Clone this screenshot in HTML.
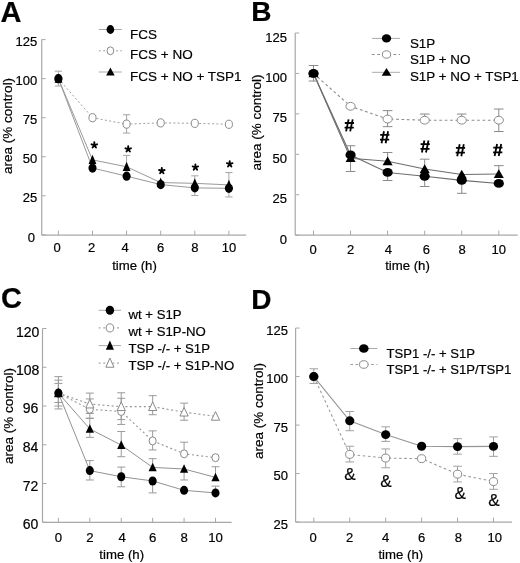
<!DOCTYPE html>
<html><head><meta charset="utf-8"><title>Figure</title>
<style>
html,body{margin:0;padding:0;background:#fff;}
body{width:520px;height:563px;overflow:hidden;}
svg{display:block;font-family:"Liberation Sans", sans-serif;filter:blur(0.25px);}
text{stroke:#000;stroke-width:0.2px;}
</style></head>
<body>
<svg width="520" height="563" viewBox="0 0 520 563">
<rect width="520" height="563" fill="#fff"/>
<line x1="41.70" y1="39.60" x2="41.70" y2="235.20" stroke="#a8a8a8" stroke-width="1.2"/>
<line x1="41.70" y1="235.20" x2="246.20" y2="235.20" stroke="#a8a8a8" stroke-width="1.2"/>
<line x1="41.70" y1="39.60" x2="45.70" y2="39.60" stroke="#a8a8a8" stroke-width="1.0"/>
<text x="37.20" y="46.20" font-size="13" text-anchor="end" font-weight="normal" >125</text>
<line x1="41.70" y1="78.66" x2="45.70" y2="78.66" stroke="#a8a8a8" stroke-width="1.0"/>
<text x="37.20" y="85.26" font-size="13" text-anchor="end" font-weight="normal" >100</text>
<line x1="41.70" y1="117.72" x2="45.70" y2="117.72" stroke="#a8a8a8" stroke-width="1.0"/>
<text x="37.20" y="124.32" font-size="13" text-anchor="end" font-weight="normal" >75</text>
<line x1="41.70" y1="156.78" x2="45.70" y2="156.78" stroke="#a8a8a8" stroke-width="1.0"/>
<text x="37.20" y="163.38" font-size="13" text-anchor="end" font-weight="normal" >50</text>
<line x1="41.70" y1="195.84" x2="45.70" y2="195.84" stroke="#a8a8a8" stroke-width="1.0"/>
<text x="37.20" y="202.44" font-size="13" text-anchor="end" font-weight="normal" >25</text>
<line x1="41.70" y1="234.90" x2="45.70" y2="234.90" stroke="#a8a8a8" stroke-width="1.0"/>
<text x="34.90" y="241.50" font-size="13" text-anchor="end" font-weight="normal" >0</text>
<line x1="58.40" y1="235.20" x2="58.40" y2="230.70" stroke="#a8a8a8" stroke-width="1.0"/>
<text x="57.20" y="252.40" font-size="13" text-anchor="middle" font-weight="normal" >0</text>
<line x1="92.50" y1="235.20" x2="92.50" y2="230.70" stroke="#a8a8a8" stroke-width="1.0"/>
<text x="91.70" y="252.40" font-size="13" text-anchor="middle" font-weight="normal" >2</text>
<line x1="126.60" y1="235.20" x2="126.60" y2="230.70" stroke="#a8a8a8" stroke-width="1.0"/>
<text x="125.10" y="252.40" font-size="13" text-anchor="middle" font-weight="normal" >4</text>
<line x1="160.70" y1="235.20" x2="160.70" y2="230.70" stroke="#a8a8a8" stroke-width="1.0"/>
<text x="160.70" y="252.40" font-size="13" text-anchor="middle" font-weight="normal" >6</text>
<line x1="194.80" y1="235.20" x2="194.80" y2="230.70" stroke="#a8a8a8" stroke-width="1.0"/>
<text x="194.80" y="252.40" font-size="13" text-anchor="middle" font-weight="normal" >8</text>
<line x1="228.90" y1="235.20" x2="228.90" y2="230.70" stroke="#a8a8a8" stroke-width="1.0"/>
<text x="228.90" y="252.40" font-size="13" text-anchor="middle" font-weight="normal" >10</text>
<text x="134.50" y="269.70" font-size="13.2" text-anchor="middle" font-weight="normal" >time (h)</text>
<text x="0" y="0" font-size="13.5" text-anchor="middle" transform="translate(12.0,125.9) rotate(-90)">area (% control)</text>
<text x="0.50" y="21.90" font-size="29" text-anchor="start" font-weight="bold" >A</text>
<polyline points="58.40,78.66 92.50,168.03 126.60,176.15 160.70,184.59 194.80,187.87 228.90,188.34" fill="none" stroke="#9a9a9a" stroke-width="1.0"/>
<polyline points="58.40,78.66 92.50,117.72 126.60,124.13 160.70,122.88 194.80,123.34 228.90,124.28" fill="none" stroke="#a0a0a0" stroke-width="1.0" stroke-dasharray="2,2.3"/>
<polyline points="58.40,78.66 92.50,159.90 126.60,166.78 160.70,182.56 194.80,183.34 228.90,184.90" fill="none" stroke="#9a9a9a" stroke-width="1.0"/>
<line x1="58.40" y1="78.66" x2="58.40" y2="71.16" stroke="#a5a5a5" stroke-width="1.0"/>
<line x1="54.80" y1="71.16" x2="62.00" y2="71.16" stroke="#a5a5a5" stroke-width="1.0"/>
<line x1="58.40" y1="78.66" x2="58.40" y2="86.00" stroke="#a5a5a5" stroke-width="1.0"/>
<line x1="54.80" y1="86.00" x2="62.00" y2="86.00" stroke="#a5a5a5" stroke-width="1.0"/>
<line x1="194.80" y1="187.87" x2="194.80" y2="195.53" stroke="#a5a5a5" stroke-width="1.0"/>
<line x1="191.20" y1="195.53" x2="198.40" y2="195.53" stroke="#a5a5a5" stroke-width="1.0"/>
<line x1="228.90" y1="188.34" x2="228.90" y2="196.93" stroke="#a5a5a5" stroke-width="1.0"/>
<line x1="225.30" y1="196.93" x2="232.50" y2="196.93" stroke="#a5a5a5" stroke-width="1.0"/>
<line x1="126.60" y1="124.13" x2="126.60" y2="114.75" stroke="#a5a5a5" stroke-width="1.0"/>
<line x1="123.00" y1="114.75" x2="130.20" y2="114.75" stroke="#a5a5a5" stroke-width="1.0"/>
<line x1="126.60" y1="124.13" x2="126.60" y2="133.03" stroke="#a5a5a5" stroke-width="1.0"/>
<line x1="123.00" y1="133.03" x2="130.20" y2="133.03" stroke="#a5a5a5" stroke-width="1.0"/>
<line x1="126.60" y1="166.78" x2="126.60" y2="155.37" stroke="#a5a5a5" stroke-width="1.0"/>
<line x1="123.00" y1="155.37" x2="130.20" y2="155.37" stroke="#a5a5a5" stroke-width="1.0"/>
<line x1="194.80" y1="183.34" x2="194.80" y2="175.84" stroke="#a5a5a5" stroke-width="1.0"/>
<line x1="191.20" y1="175.84" x2="198.40" y2="175.84" stroke="#a5a5a5" stroke-width="1.0"/>
<line x1="228.90" y1="184.90" x2="228.90" y2="172.56" stroke="#a5a5a5" stroke-width="1.0"/>
<line x1="225.30" y1="172.56" x2="232.50" y2="172.56" stroke="#a5a5a5" stroke-width="1.0"/>
<ellipse cx="58.40" cy="78.66" rx="3.55" ry="4.10" fill="#fff" stroke="#8a8a8a" stroke-width="1.0"/>
<ellipse cx="92.50" cy="117.72" rx="3.55" ry="4.10" fill="#fff" stroke="#8a8a8a" stroke-width="1.0"/>
<ellipse cx="126.60" cy="124.13" rx="3.55" ry="4.10" fill="#fff" stroke="#8a8a8a" stroke-width="1.0"/>
<ellipse cx="160.70" cy="122.88" rx="3.55" ry="4.10" fill="#fff" stroke="#8a8a8a" stroke-width="1.0"/>
<ellipse cx="194.80" cy="123.34" rx="3.55" ry="4.10" fill="#fff" stroke="#8a8a8a" stroke-width="1.0"/>
<ellipse cx="228.90" cy="124.28" rx="3.55" ry="4.10" fill="#fff" stroke="#8a8a8a" stroke-width="1.0"/>
<ellipse cx="58.40" cy="78.66" rx="4.05" ry="4.60" fill="#000"/>
<ellipse cx="92.50" cy="168.03" rx="4.05" ry="4.60" fill="#000"/>
<ellipse cx="126.60" cy="176.15" rx="4.05" ry="4.60" fill="#000"/>
<ellipse cx="160.70" cy="184.59" rx="4.05" ry="4.60" fill="#000"/>
<ellipse cx="194.80" cy="187.87" rx="4.05" ry="4.60" fill="#000"/>
<ellipse cx="228.90" cy="188.34" rx="4.05" ry="4.60" fill="#000"/>
<polygon points="58.40,73.55 54.50,82.84 62.30,82.84" fill="#000"/>
<polygon points="92.50,154.79 88.60,164.09 96.40,164.09" fill="#000"/>
<polygon points="126.60,161.66 122.70,170.96 130.50,170.96" fill="#000"/>
<polygon points="160.70,177.44 156.80,186.74 164.60,186.74" fill="#000"/>
<polygon points="194.80,178.23 190.90,187.53 198.70,187.53" fill="#000"/>
<polygon points="228.90,179.79 225.00,189.09 232.80,189.09" fill="#000"/>
<path d="M94.30,145.20L94.30,142.30M94.30,145.20L91.54,144.30M94.30,145.20L92.60,147.55M94.30,145.20L96.00,147.55M94.30,145.20L97.06,144.30" stroke="#000" stroke-width="1.9" stroke-linecap="round" fill="none"/>
<path d="M128.20,149.20L128.20,146.30M128.20,149.20L125.44,148.30M128.20,149.20L126.50,151.55M128.20,149.20L129.90,151.55M128.20,149.20L130.96,148.30" stroke="#000" stroke-width="1.9" stroke-linecap="round" fill="none"/>
<path d="M161.80,170.90L161.80,168.00M161.80,170.90L159.04,170.00M161.80,170.90L160.10,173.25M161.80,170.90L163.50,173.25M161.80,170.90L164.56,170.00" stroke="#000" stroke-width="1.9" stroke-linecap="round" fill="none"/>
<path d="M195.40,167.30L195.40,164.40M195.40,167.30L192.64,166.40M195.40,167.30L193.70,169.65M195.40,167.30L197.10,169.65M195.40,167.30L198.16,166.40" stroke="#000" stroke-width="1.9" stroke-linecap="round" fill="none"/>
<path d="M229.70,164.10L229.70,161.20M229.70,164.10L226.94,163.20M229.70,164.10L228.00,166.45M229.70,164.10L231.40,166.45M229.70,164.10L232.46,163.20" stroke="#000" stroke-width="1.9" stroke-linecap="round" fill="none"/>
<line x1="98.80" y1="29.50" x2="121.90" y2="29.50" stroke="#aaa" stroke-width="1.0"/>
<ellipse cx="110.40" cy="29.50" rx="3.85" ry="4.40" fill="#000"/>
<text x="130.00" y="39.20" font-size="13.5" text-anchor="start" font-weight="normal" >FCS</text>
<line x1="98.80" y1="50.80" x2="121.90" y2="50.80" stroke="#a0a0a0" stroke-width="1.0" stroke-dasharray="2,2.3"/>
<ellipse cx="110.40" cy="50.80" rx="3.35" ry="3.90" fill="#fff" stroke="#8a8a8a" stroke-width="1.0"/>
<text x="130.00" y="59.20" font-size="13.5" text-anchor="start" font-weight="normal" >FCS + NO</text>
<line x1="98.80" y1="72.00" x2="121.90" y2="72.00" stroke="#aaa" stroke-width="1.0"/>
<polygon points="110.40,67.60 106.15,75.60 114.65,75.60" fill="#000"/>
<text x="130.00" y="80.80" font-size="13.5" text-anchor="start" font-weight="normal" >FCS + NO + TSP1</text>
<line x1="295.20" y1="33.00" x2="295.20" y2="235.10" stroke="#a8a8a8" stroke-width="1.2"/>
<line x1="295.20" y1="235.10" x2="517.70" y2="235.10" stroke="#a8a8a8" stroke-width="1.2"/>
<line x1="295.20" y1="33.00" x2="299.20" y2="33.00" stroke="#a8a8a8" stroke-width="1.0"/>
<text x="287.00" y="41.60" font-size="13" text-anchor="end" font-weight="normal" >125</text>
<line x1="295.20" y1="73.44" x2="299.20" y2="73.44" stroke="#a8a8a8" stroke-width="1.0"/>
<text x="287.00" y="82.04" font-size="13" text-anchor="end" font-weight="normal" >100</text>
<line x1="295.20" y1="113.88" x2="299.20" y2="113.88" stroke="#a8a8a8" stroke-width="1.0"/>
<text x="287.00" y="122.48" font-size="13" text-anchor="end" font-weight="normal" >75</text>
<line x1="295.20" y1="154.32" x2="299.20" y2="154.32" stroke="#a8a8a8" stroke-width="1.0"/>
<text x="287.00" y="162.92" font-size="13" text-anchor="end" font-weight="normal" >50</text>
<line x1="295.20" y1="194.76" x2="299.20" y2="194.76" stroke="#a8a8a8" stroke-width="1.0"/>
<text x="287.00" y="203.36" font-size="13" text-anchor="end" font-weight="normal" >25</text>
<line x1="295.20" y1="235.20" x2="299.20" y2="235.20" stroke="#a8a8a8" stroke-width="1.0"/>
<text x="287.00" y="243.80" font-size="13" text-anchor="end" font-weight="normal" >0</text>
<line x1="313.50" y1="235.10" x2="313.50" y2="230.60" stroke="#a8a8a8" stroke-width="1.0"/>
<text x="313.10" y="254.10" font-size="13" text-anchor="middle" font-weight="normal" >0</text>
<line x1="350.56" y1="235.10" x2="350.56" y2="230.60" stroke="#a8a8a8" stroke-width="1.0"/>
<text x="350.56" y="254.10" font-size="13" text-anchor="middle" font-weight="normal" >2</text>
<line x1="387.62" y1="235.10" x2="387.62" y2="230.60" stroke="#a8a8a8" stroke-width="1.0"/>
<text x="388.32" y="254.10" font-size="13" text-anchor="middle" font-weight="normal" >4</text>
<line x1="424.68" y1="235.10" x2="424.68" y2="230.60" stroke="#a8a8a8" stroke-width="1.0"/>
<text x="426.38" y="254.10" font-size="13" text-anchor="middle" font-weight="normal" >6</text>
<line x1="461.74" y1="235.10" x2="461.74" y2="230.60" stroke="#a8a8a8" stroke-width="1.0"/>
<text x="462.14" y="254.10" font-size="13" text-anchor="middle" font-weight="normal" >8</text>
<line x1="498.80" y1="235.10" x2="498.80" y2="230.60" stroke="#a8a8a8" stroke-width="1.0"/>
<text x="498.80" y="254.10" font-size="13" text-anchor="middle" font-weight="normal" >10</text>
<text x="407.50" y="270.30" font-size="13.2" text-anchor="middle" font-weight="normal" >time (h)</text>
<text x="0" y="0" font-size="13.5" text-anchor="middle" transform="translate(261.0,122.6) rotate(-90)">area (% control)</text>
<text x="251.30" y="20.80" font-size="28" text-anchor="start" font-weight="bold" >B</text>
<polyline points="313.50,73.44 350.56,154.97 387.62,172.44 424.68,176.32 461.74,180.36 498.80,183.44" fill="none" stroke="#6c6c6c" stroke-width="1.1"/>
<polyline points="313.50,73.44 350.56,106.28 387.62,119.06 424.68,120.19 461.74,120.19 498.80,120.19" fill="none" stroke="#8c8c8c" stroke-width="1.1" stroke-dasharray="2.7,2.7"/>
<polyline points="313.50,73.44 350.56,158.20 387.62,161.28 424.68,169.04 461.74,174.54 498.80,174.05" fill="none" stroke="#6c6c6c" stroke-width="1.1"/>
<line x1="313.50" y1="73.44" x2="313.50" y2="65.51" stroke="#8a8a8a" stroke-width="1.0"/>
<line x1="308.70" y1="65.51" x2="318.30" y2="65.51" stroke="#8a8a8a" stroke-width="1.0"/>
<line x1="313.50" y1="73.44" x2="313.50" y2="81.04" stroke="#8a8a8a" stroke-width="1.0"/>
<line x1="308.70" y1="81.04" x2="318.30" y2="81.04" stroke="#8a8a8a" stroke-width="1.0"/>
<line x1="350.56" y1="154.97" x2="350.56" y2="145.75" stroke="#8a8a8a" stroke-width="1.0"/>
<line x1="345.76" y1="145.75" x2="355.36" y2="145.75" stroke="#8a8a8a" stroke-width="1.0"/>
<line x1="387.62" y1="172.44" x2="387.62" y2="180.53" stroke="#8a8a8a" stroke-width="1.0"/>
<line x1="382.82" y1="180.53" x2="392.42" y2="180.53" stroke="#8a8a8a" stroke-width="1.0"/>
<line x1="424.68" y1="176.32" x2="424.68" y2="186.51" stroke="#8a8a8a" stroke-width="1.0"/>
<line x1="419.88" y1="186.51" x2="429.48" y2="186.51" stroke="#8a8a8a" stroke-width="1.0"/>
<line x1="461.74" y1="180.36" x2="461.74" y2="193.30" stroke="#8a8a8a" stroke-width="1.0"/>
<line x1="456.94" y1="193.30" x2="466.54" y2="193.30" stroke="#8a8a8a" stroke-width="1.0"/>
<line x1="387.62" y1="119.06" x2="387.62" y2="110.64" stroke="#8a8a8a" stroke-width="1.0"/>
<line x1="382.82" y1="110.64" x2="392.42" y2="110.64" stroke="#8a8a8a" stroke-width="1.0"/>
<line x1="387.62" y1="119.06" x2="387.62" y2="126.66" stroke="#8a8a8a" stroke-width="1.0"/>
<line x1="382.82" y1="126.66" x2="392.42" y2="126.66" stroke="#8a8a8a" stroke-width="1.0"/>
<line x1="424.68" y1="120.19" x2="424.68" y2="114.04" stroke="#8a8a8a" stroke-width="1.0"/>
<line x1="419.88" y1="114.04" x2="429.48" y2="114.04" stroke="#8a8a8a" stroke-width="1.0"/>
<line x1="461.74" y1="120.19" x2="461.74" y2="114.04" stroke="#8a8a8a" stroke-width="1.0"/>
<line x1="456.94" y1="114.04" x2="466.54" y2="114.04" stroke="#8a8a8a" stroke-width="1.0"/>
<line x1="498.80" y1="120.19" x2="498.80" y2="109.03" stroke="#8a8a8a" stroke-width="1.0"/>
<line x1="494.00" y1="109.03" x2="503.60" y2="109.03" stroke="#8a8a8a" stroke-width="1.0"/>
<line x1="498.80" y1="120.19" x2="498.80" y2="131.51" stroke="#8a8a8a" stroke-width="1.0"/>
<line x1="494.00" y1="131.51" x2="503.60" y2="131.51" stroke="#8a8a8a" stroke-width="1.0"/>
<line x1="350.56" y1="158.20" x2="350.56" y2="171.47" stroke="#8a8a8a" stroke-width="1.0"/>
<line x1="345.76" y1="171.47" x2="355.36" y2="171.47" stroke="#8a8a8a" stroke-width="1.0"/>
<line x1="387.62" y1="161.28" x2="387.62" y2="152.54" stroke="#8a8a8a" stroke-width="1.0"/>
<line x1="382.82" y1="152.54" x2="392.42" y2="152.54" stroke="#8a8a8a" stroke-width="1.0"/>
<line x1="424.68" y1="169.04" x2="424.68" y2="159.17" stroke="#8a8a8a" stroke-width="1.0"/>
<line x1="419.88" y1="159.17" x2="429.48" y2="159.17" stroke="#8a8a8a" stroke-width="1.0"/>
<line x1="498.80" y1="174.05" x2="498.80" y2="165.64" stroke="#8a8a8a" stroke-width="1.0"/>
<line x1="494.00" y1="165.64" x2="503.60" y2="165.64" stroke="#8a8a8a" stroke-width="1.0"/>
<ellipse cx="313.50" cy="73.44" rx="4.60" ry="3.90" fill="#fff" stroke="#8a8a8a" stroke-width="1.0"/>
<ellipse cx="350.56" cy="106.28" rx="4.60" ry="3.90" fill="#fff" stroke="#8a8a8a" stroke-width="1.0"/>
<ellipse cx="387.62" cy="119.06" rx="4.60" ry="3.90" fill="#fff" stroke="#8a8a8a" stroke-width="1.0"/>
<ellipse cx="424.68" cy="120.19" rx="4.60" ry="3.90" fill="#fff" stroke="#8a8a8a" stroke-width="1.0"/>
<ellipse cx="461.74" cy="120.19" rx="4.60" ry="3.90" fill="#fff" stroke="#8a8a8a" stroke-width="1.0"/>
<ellipse cx="498.80" cy="120.19" rx="4.60" ry="3.90" fill="#fff" stroke="#8a8a8a" stroke-width="1.0"/>
<ellipse cx="313.50" cy="73.44" rx="5.10" ry="4.40" fill="#000"/>
<ellipse cx="350.56" cy="154.97" rx="5.10" ry="4.40" fill="#000"/>
<ellipse cx="387.62" cy="172.44" rx="5.10" ry="4.40" fill="#000"/>
<ellipse cx="424.68" cy="176.32" rx="5.10" ry="4.40" fill="#000"/>
<ellipse cx="461.74" cy="180.36" rx="5.10" ry="4.40" fill="#000"/>
<ellipse cx="498.80" cy="183.44" rx="5.10" ry="4.40" fill="#000"/>
<polygon points="313.50,68.66 308.50,77.36 318.50,77.36" fill="#000"/>
<polygon points="350.56,153.42 345.56,162.12 355.56,162.12" fill="#000"/>
<polygon points="387.62,156.49 382.62,165.19 392.62,165.19" fill="#000"/>
<polygon points="424.68,164.26 419.68,172.96 429.68,172.96" fill="#000"/>
<polygon points="461.74,169.75 456.74,178.45 466.74,178.45" fill="#000"/>
<polygon points="498.80,169.27 493.80,177.97 503.80,177.97" fill="#000"/>
<path d="M348.60,119.40L346.10,131.40M352.70,119.40L350.20,131.40M344.80,123.00L354.00,123.00M344.60,127.70L353.80,127.70" stroke="#000" stroke-width="1.8" fill="none"/>
<path d="M384.00,131.30L381.50,143.30M388.10,131.30L385.60,143.30M380.20,134.90L389.40,134.90M380.00,139.60L389.20,139.60" stroke="#000" stroke-width="1.8" fill="none"/>
<path d="M424.40,140.50L421.90,152.50M428.50,140.50L426.00,152.50M420.60,144.10L429.80,144.10M420.40,148.80L429.60,148.80" stroke="#000" stroke-width="1.8" fill="none"/>
<path d="M459.70,144.30L457.20,156.30M463.80,144.30L461.30,156.30M455.90,147.90L465.10,147.90M455.70,152.60L464.90,152.60" stroke="#000" stroke-width="1.8" fill="none"/>
<path d="M497.10,144.00L494.60,156.00M501.20,144.00L498.70,156.00M493.30,147.60L502.50,147.60M493.10,152.30L502.30,152.30" stroke="#000" stroke-width="1.8" fill="none"/>
<line x1="371.90" y1="38.40" x2="400.00" y2="38.40" stroke="#aaa" stroke-width="1.0"/>
<ellipse cx="386.50" cy="38.40" rx="4.65" ry="4.20" fill="#000"/>
<text x="409.90" y="48.10" font-size="13.4" text-anchor="start" font-weight="normal" >S1P</text>
<line x1="371.90" y1="54.50" x2="400.00" y2="54.50" stroke="#8c8c8c" stroke-width="1.0" stroke-dasharray="2.7,2.7"/>
<ellipse cx="386.50" cy="54.50" rx="4.15" ry="3.70" fill="#fff" stroke="#8a8a8a" stroke-width="1.0"/>
<text x="409.90" y="64.20" font-size="13.4" text-anchor="start" font-weight="normal" >S1P + NO</text>
<line x1="371.90" y1="72.30" x2="400.00" y2="72.30" stroke="#aaa" stroke-width="1.0"/>
<polygon points="386.50,68.01 381.70,75.81 391.30,75.81" fill="#000"/>
<text x="409.90" y="80.70" font-size="13.4" text-anchor="start" font-weight="normal" >S1P + NO + TSP1</text>
<line x1="42.50" y1="328.50" x2="42.50" y2="522.30" stroke="#a8a8a8" stroke-width="1.2"/>
<line x1="42.50" y1="522.30" x2="231.60" y2="522.30" stroke="#a8a8a8" stroke-width="1.2"/>
<line x1="42.50" y1="328.50" x2="46.50" y2="328.50" stroke="#a8a8a8" stroke-width="1.0"/>
<text x="39.40" y="336.50" font-size="14" text-anchor="end" font-weight="normal" >120</text>
<line x1="42.50" y1="367.26" x2="46.50" y2="367.26" stroke="#a8a8a8" stroke-width="1.0"/>
<text x="39.40" y="375.06" font-size="14" text-anchor="end" font-weight="normal" >108</text>
<line x1="42.50" y1="406.02" x2="46.50" y2="406.02" stroke="#a8a8a8" stroke-width="1.0"/>
<text x="38.30" y="413.02" font-size="14" text-anchor="end" font-weight="normal" >96</text>
<line x1="42.50" y1="444.78" x2="46.50" y2="444.78" stroke="#a8a8a8" stroke-width="1.0"/>
<text x="38.30" y="451.78" font-size="14" text-anchor="end" font-weight="normal" >84</text>
<line x1="42.50" y1="483.54" x2="46.50" y2="483.54" stroke="#a8a8a8" stroke-width="1.0"/>
<text x="38.30" y="490.54" font-size="14" text-anchor="end" font-weight="normal" >72</text>
<line x1="42.50" y1="522.30" x2="46.50" y2="522.30" stroke="#a8a8a8" stroke-width="1.0"/>
<text x="38.30" y="529.30" font-size="14" text-anchor="end" font-weight="normal" >60</text>
<line x1="58.40" y1="522.30" x2="58.40" y2="517.80" stroke="#a8a8a8" stroke-width="1.0"/>
<text x="58.40" y="542.20" font-size="13.2" text-anchor="middle" font-weight="normal" >0</text>
<line x1="89.82" y1="522.30" x2="89.82" y2="517.80" stroke="#a8a8a8" stroke-width="1.0"/>
<text x="89.82" y="542.20" font-size="13.2" text-anchor="middle" font-weight="normal" >2</text>
<line x1="121.24" y1="522.30" x2="121.24" y2="517.80" stroke="#a8a8a8" stroke-width="1.0"/>
<text x="122.24" y="542.20" font-size="13.2" text-anchor="middle" font-weight="normal" >4</text>
<line x1="152.66" y1="522.30" x2="152.66" y2="517.80" stroke="#a8a8a8" stroke-width="1.0"/>
<text x="152.66" y="542.20" font-size="13.2" text-anchor="middle" font-weight="normal" >6</text>
<line x1="184.08" y1="522.30" x2="184.08" y2="517.80" stroke="#a8a8a8" stroke-width="1.0"/>
<text x="184.08" y="542.20" font-size="13.2" text-anchor="middle" font-weight="normal" >8</text>
<line x1="215.50" y1="522.30" x2="215.50" y2="517.80" stroke="#a8a8a8" stroke-width="1.0"/>
<text x="215.50" y="542.20" font-size="13.2" text-anchor="middle" font-weight="normal" >10</text>
<text x="121.70" y="558.70" font-size="13.2" text-anchor="middle" font-weight="normal" >time (h)</text>
<text x="0" y="0" font-size="13.5" text-anchor="middle" transform="translate(13.3,416.0) rotate(-90)">area (% control)</text>
<text x="1.00" y="308.00" font-size="29" text-anchor="start" font-weight="bold" >C</text>
<polyline points="58.40,393.10 89.82,470.62 121.24,476.76 152.66,480.96 184.08,490.32 215.50,492.91" fill="none" stroke="#929292" stroke-width="1.0"/>
<polyline points="58.40,393.10 89.82,409.25 121.24,411.51 152.66,440.90 184.08,453.82 215.50,457.70" fill="none" stroke="#959595" stroke-width="1.1" stroke-dasharray="2,2.6"/>
<polyline points="58.40,393.10 89.82,428.95 121.24,445.10 152.66,467.39 184.08,469.00 215.50,477.40" fill="none" stroke="#929292" stroke-width="1.0"/>
<polyline points="58.40,393.10 89.82,404.08 121.24,406.67 152.66,406.67 184.08,412.16 215.50,416.36" fill="none" stroke="#959595" stroke-width="1.1" stroke-dasharray="2,2.6"/>
<line x1="58.40" y1="393.10" x2="58.40" y2="383.41" stroke="#9a9a9a" stroke-width="1.0"/>
<line x1="54.40" y1="383.41" x2="62.40" y2="383.41" stroke="#9a9a9a" stroke-width="1.0"/>
<line x1="58.40" y1="393.10" x2="58.40" y2="402.47" stroke="#9a9a9a" stroke-width="1.0"/>
<line x1="54.40" y1="402.47" x2="62.40" y2="402.47" stroke="#9a9a9a" stroke-width="1.0"/>
<line x1="89.82" y1="470.62" x2="89.82" y2="460.61" stroke="#9a9a9a" stroke-width="1.0"/>
<line x1="85.82" y1="460.61" x2="93.82" y2="460.61" stroke="#9a9a9a" stroke-width="1.0"/>
<line x1="89.82" y1="470.62" x2="89.82" y2="479.99" stroke="#9a9a9a" stroke-width="1.0"/>
<line x1="85.82" y1="479.99" x2="93.82" y2="479.99" stroke="#9a9a9a" stroke-width="1.0"/>
<line x1="121.24" y1="476.76" x2="121.24" y2="467.07" stroke="#9a9a9a" stroke-width="1.0"/>
<line x1="117.24" y1="467.07" x2="125.24" y2="467.07" stroke="#9a9a9a" stroke-width="1.0"/>
<line x1="121.24" y1="476.76" x2="121.24" y2="486.77" stroke="#9a9a9a" stroke-width="1.0"/>
<line x1="117.24" y1="486.77" x2="125.24" y2="486.77" stroke="#9a9a9a" stroke-width="1.0"/>
<line x1="152.66" y1="480.96" x2="152.66" y2="492.91" stroke="#9a9a9a" stroke-width="1.0"/>
<line x1="148.66" y1="492.91" x2="156.66" y2="492.91" stroke="#9a9a9a" stroke-width="1.0"/>
<line x1="215.50" y1="492.91" x2="215.50" y2="486.12" stroke="#9a9a9a" stroke-width="1.0"/>
<line x1="211.50" y1="486.12" x2="219.50" y2="486.12" stroke="#9a9a9a" stroke-width="1.0"/>
<line x1="58.40" y1="393.10" x2="58.40" y2="380.18" stroke="#9a9a9a" stroke-width="1.0"/>
<line x1="54.40" y1="380.18" x2="62.40" y2="380.18" stroke="#9a9a9a" stroke-width="1.0"/>
<line x1="58.40" y1="393.10" x2="58.40" y2="406.02" stroke="#9a9a9a" stroke-width="1.0"/>
<line x1="54.40" y1="406.02" x2="62.40" y2="406.02" stroke="#9a9a9a" stroke-width="1.0"/>
<line x1="89.82" y1="409.25" x2="89.82" y2="398.91" stroke="#9a9a9a" stroke-width="1.0"/>
<line x1="85.82" y1="398.91" x2="93.82" y2="398.91" stroke="#9a9a9a" stroke-width="1.0"/>
<line x1="89.82" y1="409.25" x2="89.82" y2="418.29" stroke="#9a9a9a" stroke-width="1.0"/>
<line x1="85.82" y1="418.29" x2="93.82" y2="418.29" stroke="#9a9a9a" stroke-width="1.0"/>
<line x1="121.24" y1="411.51" x2="121.24" y2="398.27" stroke="#9a9a9a" stroke-width="1.0"/>
<line x1="117.24" y1="398.27" x2="125.24" y2="398.27" stroke="#9a9a9a" stroke-width="1.0"/>
<line x1="121.24" y1="411.51" x2="121.24" y2="424.43" stroke="#9a9a9a" stroke-width="1.0"/>
<line x1="117.24" y1="424.43" x2="125.24" y2="424.43" stroke="#9a9a9a" stroke-width="1.0"/>
<line x1="152.66" y1="440.90" x2="152.66" y2="430.89" stroke="#9a9a9a" stroke-width="1.0"/>
<line x1="148.66" y1="430.89" x2="156.66" y2="430.89" stroke="#9a9a9a" stroke-width="1.0"/>
<line x1="152.66" y1="440.90" x2="152.66" y2="449.95" stroke="#9a9a9a" stroke-width="1.0"/>
<line x1="148.66" y1="449.95" x2="156.66" y2="449.95" stroke="#9a9a9a" stroke-width="1.0"/>
<line x1="184.08" y1="453.82" x2="184.08" y2="442.20" stroke="#9a9a9a" stroke-width="1.0"/>
<line x1="180.08" y1="442.20" x2="188.08" y2="442.20" stroke="#9a9a9a" stroke-width="1.0"/>
<line x1="58.40" y1="393.10" x2="58.40" y2="376.63" stroke="#9a9a9a" stroke-width="1.0"/>
<line x1="54.40" y1="376.63" x2="62.40" y2="376.63" stroke="#9a9a9a" stroke-width="1.0"/>
<line x1="58.40" y1="393.10" x2="58.40" y2="408.93" stroke="#9a9a9a" stroke-width="1.0"/>
<line x1="54.40" y1="408.93" x2="62.40" y2="408.93" stroke="#9a9a9a" stroke-width="1.0"/>
<line x1="89.82" y1="428.95" x2="89.82" y2="418.29" stroke="#9a9a9a" stroke-width="1.0"/>
<line x1="85.82" y1="418.29" x2="93.82" y2="418.29" stroke="#9a9a9a" stroke-width="1.0"/>
<line x1="89.82" y1="428.95" x2="89.82" y2="437.35" stroke="#9a9a9a" stroke-width="1.0"/>
<line x1="85.82" y1="437.35" x2="93.82" y2="437.35" stroke="#9a9a9a" stroke-width="1.0"/>
<line x1="121.24" y1="445.10" x2="121.24" y2="431.54" stroke="#9a9a9a" stroke-width="1.0"/>
<line x1="117.24" y1="431.54" x2="125.24" y2="431.54" stroke="#9a9a9a" stroke-width="1.0"/>
<line x1="121.24" y1="445.10" x2="121.24" y2="456.73" stroke="#9a9a9a" stroke-width="1.0"/>
<line x1="117.24" y1="456.73" x2="125.24" y2="456.73" stroke="#9a9a9a" stroke-width="1.0"/>
<line x1="152.66" y1="467.39" x2="152.66" y2="458.67" stroke="#9a9a9a" stroke-width="1.0"/>
<line x1="148.66" y1="458.67" x2="156.66" y2="458.67" stroke="#9a9a9a" stroke-width="1.0"/>
<line x1="184.08" y1="469.00" x2="184.08" y2="479.99" stroke="#9a9a9a" stroke-width="1.0"/>
<line x1="180.08" y1="479.99" x2="188.08" y2="479.99" stroke="#9a9a9a" stroke-width="1.0"/>
<line x1="215.50" y1="477.40" x2="215.50" y2="466.74" stroke="#9a9a9a" stroke-width="1.0"/>
<line x1="211.50" y1="466.74" x2="219.50" y2="466.74" stroke="#9a9a9a" stroke-width="1.0"/>
<line x1="89.82" y1="404.08" x2="89.82" y2="393.10" stroke="#9a9a9a" stroke-width="1.0"/>
<line x1="85.82" y1="393.10" x2="93.82" y2="393.10" stroke="#9a9a9a" stroke-width="1.0"/>
<line x1="89.82" y1="404.08" x2="89.82" y2="413.45" stroke="#9a9a9a" stroke-width="1.0"/>
<line x1="85.82" y1="413.45" x2="93.82" y2="413.45" stroke="#9a9a9a" stroke-width="1.0"/>
<line x1="121.24" y1="406.67" x2="121.24" y2="392.78" stroke="#9a9a9a" stroke-width="1.0"/>
<line x1="117.24" y1="392.78" x2="125.24" y2="392.78" stroke="#9a9a9a" stroke-width="1.0"/>
<line x1="121.24" y1="406.67" x2="121.24" y2="419.59" stroke="#9a9a9a" stroke-width="1.0"/>
<line x1="117.24" y1="419.59" x2="125.24" y2="419.59" stroke="#9a9a9a" stroke-width="1.0"/>
<line x1="152.66" y1="406.67" x2="152.66" y2="395.68" stroke="#9a9a9a" stroke-width="1.0"/>
<line x1="148.66" y1="395.68" x2="156.66" y2="395.68" stroke="#9a9a9a" stroke-width="1.0"/>
<line x1="152.66" y1="406.67" x2="152.66" y2="414.74" stroke="#9a9a9a" stroke-width="1.0"/>
<line x1="148.66" y1="414.74" x2="156.66" y2="414.74" stroke="#9a9a9a" stroke-width="1.0"/>
<line x1="184.08" y1="412.16" x2="184.08" y2="403.11" stroke="#9a9a9a" stroke-width="1.0"/>
<line x1="180.08" y1="403.11" x2="188.08" y2="403.11" stroke="#9a9a9a" stroke-width="1.0"/>
<line x1="184.08" y1="412.16" x2="184.08" y2="420.23" stroke="#9a9a9a" stroke-width="1.0"/>
<line x1="180.08" y1="420.23" x2="188.08" y2="420.23" stroke="#9a9a9a" stroke-width="1.0"/>
<ellipse cx="58.40" cy="393.10" rx="3.55" ry="4.00" fill="#fff" stroke="#8a8a8a" stroke-width="1.0"/>
<ellipse cx="89.82" cy="409.25" rx="3.55" ry="4.00" fill="#fff" stroke="#8a8a8a" stroke-width="1.0"/>
<ellipse cx="121.24" cy="411.51" rx="3.55" ry="4.00" fill="#fff" stroke="#8a8a8a" stroke-width="1.0"/>
<ellipse cx="152.66" cy="440.90" rx="3.55" ry="4.00" fill="#fff" stroke="#8a8a8a" stroke-width="1.0"/>
<ellipse cx="184.08" cy="453.82" rx="3.55" ry="4.00" fill="#fff" stroke="#8a8a8a" stroke-width="1.0"/>
<ellipse cx="215.50" cy="457.70" rx="3.55" ry="4.00" fill="#fff" stroke="#8a8a8a" stroke-width="1.0"/>
<polygon points="58.40,388.37 54.30,396.97 62.50,396.97" fill="#fff" stroke="#8a8a8a" stroke-width="1.0"/>
<polygon points="89.82,399.35 85.72,407.95 93.92,407.95" fill="#fff" stroke="#8a8a8a" stroke-width="1.0"/>
<polygon points="121.24,401.94 117.14,410.54 125.34,410.54" fill="#fff" stroke="#8a8a8a" stroke-width="1.0"/>
<polygon points="152.66,401.94 148.56,410.54 156.76,410.54" fill="#fff" stroke="#8a8a8a" stroke-width="1.0"/>
<polygon points="184.08,407.43 179.98,416.03 188.18,416.03" fill="#fff" stroke="#8a8a8a" stroke-width="1.0"/>
<polygon points="215.50,411.63 211.40,420.23 219.60,420.23" fill="#fff" stroke="#8a8a8a" stroke-width="1.0"/>
<ellipse cx="58.40" cy="393.10" rx="4.05" ry="4.50" fill="#000"/>
<ellipse cx="89.82" cy="470.62" rx="4.05" ry="4.50" fill="#000"/>
<ellipse cx="121.24" cy="476.76" rx="4.05" ry="4.50" fill="#000"/>
<ellipse cx="152.66" cy="480.96" rx="4.05" ry="4.50" fill="#000"/>
<ellipse cx="184.08" cy="490.32" rx="4.05" ry="4.50" fill="#000"/>
<ellipse cx="215.50" cy="492.91" rx="4.05" ry="4.50" fill="#000"/>
<polygon points="58.40,388.37 54.30,396.97 62.50,396.97" fill="#000"/>
<polygon points="89.82,424.22 85.72,432.82 93.92,432.82" fill="#000"/>
<polygon points="121.24,440.37 117.14,448.97 125.34,448.97" fill="#000"/>
<polygon points="152.66,462.66 148.56,471.26 156.76,471.26" fill="#000"/>
<polygon points="184.08,464.27 179.98,472.87 188.18,472.87" fill="#000"/>
<polygon points="215.50,472.67 211.40,481.27 219.60,481.27" fill="#000"/>
<line x1="98.60" y1="310.30" x2="121.00" y2="310.30" stroke="#aaa" stroke-width="1.0"/>
<ellipse cx="109.90" cy="310.30" rx="4.20" ry="4.55" fill="#000"/>
<text x="128.50" y="318.80" font-size="13.2" text-anchor="start" font-weight="normal" >wt + S1P</text>
<line x1="98.60" y1="327.90" x2="121.00" y2="327.90" stroke="#959595" stroke-width="1.0" stroke-dasharray="2,2.6"/>
<ellipse cx="109.90" cy="327.90" rx="3.70" ry="4.05" fill="#fff" stroke="#8a8a8a" stroke-width="1.0"/>
<text x="128.50" y="335.90" font-size="13.2" text-anchor="start" font-weight="normal" >wt + S1P-NO</text>
<line x1="98.60" y1="345.60" x2="121.00" y2="345.60" stroke="#aaa" stroke-width="1.0"/>
<polygon points="109.90,340.54 105.85,349.74 113.95,349.74" fill="#000"/>
<text x="128.50" y="353.10" font-size="13.2" text-anchor="start" font-weight="normal" >TSP -/- + S1P</text>
<line x1="98.60" y1="363.10" x2="121.00" y2="363.10" stroke="#959595" stroke-width="1.0" stroke-dasharray="2,2.6"/>
<polygon points="109.90,358.04 105.85,367.24 113.95,367.24" fill="#fff" stroke="#8a8a8a" stroke-width="1.0"/>
<text x="128.50" y="370.40" font-size="13.2" text-anchor="start" font-weight="normal" >TSP -/- + S1P-NO</text>
<line x1="295.60" y1="328.00" x2="295.60" y2="522.10" stroke="#a8a8a8" stroke-width="1.2"/>
<line x1="295.60" y1="522.10" x2="512.00" y2="522.10" stroke="#a8a8a8" stroke-width="1.2"/>
<line x1="295.60" y1="328.06" x2="299.60" y2="328.06" stroke="#a8a8a8" stroke-width="1.0"/>
<text x="288.00" y="334.96" font-size="13" text-anchor="end" font-weight="normal" >125</text>
<line x1="295.60" y1="376.57" x2="299.60" y2="376.57" stroke="#a8a8a8" stroke-width="1.0"/>
<text x="288.00" y="383.47" font-size="13" text-anchor="end" font-weight="normal" >100</text>
<line x1="295.60" y1="425.08" x2="299.60" y2="425.08" stroke="#a8a8a8" stroke-width="1.0"/>
<text x="288.00" y="431.98" font-size="13" text-anchor="end" font-weight="normal" >75</text>
<line x1="295.60" y1="473.59" x2="299.60" y2="473.59" stroke="#a8a8a8" stroke-width="1.0"/>
<text x="288.00" y="480.49" font-size="13" text-anchor="end" font-weight="normal" >50</text>
<line x1="295.60" y1="522.10" x2="299.60" y2="522.10" stroke="#a8a8a8" stroke-width="1.0"/>
<text x="288.00" y="529.00" font-size="13" text-anchor="end" font-weight="normal" >25</text>
<line x1="313.80" y1="522.10" x2="313.80" y2="517.60" stroke="#a8a8a8" stroke-width="1.0"/>
<text x="313.20" y="542.00" font-size="13" text-anchor="middle" font-weight="normal" >0</text>
<line x1="349.74" y1="522.10" x2="349.74" y2="517.60" stroke="#a8a8a8" stroke-width="1.0"/>
<text x="349.74" y="542.00" font-size="13" text-anchor="middle" font-weight="normal" >2</text>
<line x1="385.68" y1="522.10" x2="385.68" y2="517.60" stroke="#a8a8a8" stroke-width="1.0"/>
<text x="385.68" y="542.00" font-size="13" text-anchor="middle" font-weight="normal" >4</text>
<line x1="421.62" y1="522.10" x2="421.62" y2="517.60" stroke="#a8a8a8" stroke-width="1.0"/>
<text x="421.62" y="542.00" font-size="13" text-anchor="middle" font-weight="normal" >6</text>
<line x1="457.56" y1="522.10" x2="457.56" y2="517.60" stroke="#a8a8a8" stroke-width="1.0"/>
<text x="458.36" y="542.00" font-size="13" text-anchor="middle" font-weight="normal" >8</text>
<line x1="493.50" y1="522.10" x2="493.50" y2="517.60" stroke="#a8a8a8" stroke-width="1.0"/>
<text x="494.70" y="542.00" font-size="13" text-anchor="middle" font-weight="normal" >10</text>
<text x="400.80" y="558.50" font-size="13.2" text-anchor="middle" font-weight="normal" >time (h)</text>
<text x="0" y="0" font-size="13.5" text-anchor="middle" transform="translate(262.9,411.0) rotate(-90)">area (% control)</text>
<text x="251.30" y="308.90" font-size="28" text-anchor="start" font-weight="bold" >D</text>
<polyline points="313.80,376.57 349.74,420.81 385.68,434.59 421.62,446.23 457.56,446.62 493.50,446.42" fill="none" stroke="#959595" stroke-width="1.1"/>
<polyline points="313.80,376.57 349.74,454.38 385.68,458.07 421.62,458.65 457.56,474.17 493.50,481.55" fill="none" stroke="#9a9a9a" stroke-width="1.1" stroke-dasharray="2.6,2.6"/>
<line x1="313.80" y1="376.57" x2="313.80" y2="368.81" stroke="#a0a0a0" stroke-width="1.0"/>
<line x1="309.50" y1="368.81" x2="318.10" y2="368.81" stroke="#a0a0a0" stroke-width="1.0"/>
<line x1="313.80" y1="376.57" x2="313.80" y2="383.56" stroke="#a0a0a0" stroke-width="1.0"/>
<line x1="309.50" y1="383.56" x2="318.10" y2="383.56" stroke="#a0a0a0" stroke-width="1.0"/>
<line x1="349.74" y1="420.81" x2="349.74" y2="411.50" stroke="#a0a0a0" stroke-width="1.0"/>
<line x1="345.44" y1="411.50" x2="354.04" y2="411.50" stroke="#a0a0a0" stroke-width="1.0"/>
<line x1="349.74" y1="420.81" x2="349.74" y2="430.71" stroke="#a0a0a0" stroke-width="1.0"/>
<line x1="345.44" y1="430.71" x2="354.04" y2="430.71" stroke="#a0a0a0" stroke-width="1.0"/>
<line x1="385.68" y1="434.59" x2="385.68" y2="426.83" stroke="#a0a0a0" stroke-width="1.0"/>
<line x1="381.38" y1="426.83" x2="389.98" y2="426.83" stroke="#a0a0a0" stroke-width="1.0"/>
<line x1="385.68" y1="434.59" x2="385.68" y2="441.38" stroke="#a0a0a0" stroke-width="1.0"/>
<line x1="381.38" y1="441.38" x2="389.98" y2="441.38" stroke="#a0a0a0" stroke-width="1.0"/>
<line x1="457.56" y1="446.62" x2="457.56" y2="438.66" stroke="#a0a0a0" stroke-width="1.0"/>
<line x1="453.26" y1="438.66" x2="461.86" y2="438.66" stroke="#a0a0a0" stroke-width="1.0"/>
<line x1="457.56" y1="446.62" x2="457.56" y2="454.19" stroke="#a0a0a0" stroke-width="1.0"/>
<line x1="453.26" y1="454.19" x2="461.86" y2="454.19" stroke="#a0a0a0" stroke-width="1.0"/>
<line x1="493.50" y1="446.42" x2="493.50" y2="436.92" stroke="#a0a0a0" stroke-width="1.0"/>
<line x1="489.20" y1="436.92" x2="497.80" y2="436.92" stroke="#a0a0a0" stroke-width="1.0"/>
<line x1="493.50" y1="446.42" x2="493.50" y2="456.32" stroke="#a0a0a0" stroke-width="1.0"/>
<line x1="489.20" y1="456.32" x2="497.80" y2="456.32" stroke="#a0a0a0" stroke-width="1.0"/>
<line x1="349.74" y1="454.38" x2="349.74" y2="446.23" stroke="#a0a0a0" stroke-width="1.0"/>
<line x1="345.44" y1="446.23" x2="354.04" y2="446.23" stroke="#a0a0a0" stroke-width="1.0"/>
<line x1="349.74" y1="454.38" x2="349.74" y2="461.95" stroke="#a0a0a0" stroke-width="1.0"/>
<line x1="345.44" y1="461.95" x2="354.04" y2="461.95" stroke="#a0a0a0" stroke-width="1.0"/>
<line x1="385.68" y1="458.07" x2="385.68" y2="448.95" stroke="#a0a0a0" stroke-width="1.0"/>
<line x1="381.38" y1="448.95" x2="389.98" y2="448.95" stroke="#a0a0a0" stroke-width="1.0"/>
<line x1="385.68" y1="458.07" x2="385.68" y2="467.77" stroke="#a0a0a0" stroke-width="1.0"/>
<line x1="381.38" y1="467.77" x2="389.98" y2="467.77" stroke="#a0a0a0" stroke-width="1.0"/>
<line x1="457.56" y1="474.17" x2="457.56" y2="466.22" stroke="#a0a0a0" stroke-width="1.0"/>
<line x1="453.26" y1="466.22" x2="461.86" y2="466.22" stroke="#a0a0a0" stroke-width="1.0"/>
<line x1="457.56" y1="474.17" x2="457.56" y2="481.93" stroke="#a0a0a0" stroke-width="1.0"/>
<line x1="453.26" y1="481.93" x2="461.86" y2="481.93" stroke="#a0a0a0" stroke-width="1.0"/>
<line x1="493.50" y1="481.55" x2="493.50" y2="473.59" stroke="#a0a0a0" stroke-width="1.0"/>
<line x1="489.20" y1="473.59" x2="497.80" y2="473.59" stroke="#a0a0a0" stroke-width="1.0"/>
<line x1="493.50" y1="481.55" x2="493.50" y2="489.31" stroke="#a0a0a0" stroke-width="1.0"/>
<line x1="489.20" y1="489.31" x2="497.80" y2="489.31" stroke="#a0a0a0" stroke-width="1.0"/>
<ellipse cx="313.80" cy="376.57" rx="4.10" ry="3.95" fill="#fff" stroke="#8a8a8a" stroke-width="1.0"/>
<ellipse cx="349.74" cy="454.38" rx="4.10" ry="3.95" fill="#fff" stroke="#8a8a8a" stroke-width="1.0"/>
<ellipse cx="385.68" cy="458.07" rx="4.10" ry="3.95" fill="#fff" stroke="#8a8a8a" stroke-width="1.0"/>
<ellipse cx="421.62" cy="458.65" rx="4.10" ry="3.95" fill="#fff" stroke="#8a8a8a" stroke-width="1.0"/>
<ellipse cx="457.56" cy="474.17" rx="4.10" ry="3.95" fill="#fff" stroke="#8a8a8a" stroke-width="1.0"/>
<ellipse cx="493.50" cy="481.55" rx="4.10" ry="3.95" fill="#fff" stroke="#8a8a8a" stroke-width="1.0"/>
<ellipse cx="313.80" cy="376.57" rx="4.60" ry="4.45" fill="#000"/>
<ellipse cx="349.74" cy="420.81" rx="4.60" ry="4.45" fill="#000"/>
<ellipse cx="385.68" cy="434.59" rx="4.60" ry="4.45" fill="#000"/>
<ellipse cx="421.62" cy="446.23" rx="4.60" ry="4.45" fill="#000"/>
<ellipse cx="457.56" cy="446.62" rx="4.60" ry="4.45" fill="#000"/>
<ellipse cx="493.50" cy="446.42" rx="4.60" ry="4.45" fill="#000"/>
<text x="350.00" y="480.00" font-size="17" text-anchor="middle" font-weight="normal" >&amp;</text>
<text x="386.00" y="487.00" font-size="17" text-anchor="middle" font-weight="normal" >&amp;</text>
<text x="460.20" y="498.70" font-size="17" text-anchor="middle" font-weight="normal" >&amp;</text>
<text x="493.90" y="506.10" font-size="17" text-anchor="middle" font-weight="normal" >&amp;</text>
<line x1="350.40" y1="348.50" x2="377.30" y2="348.50" stroke="#aaa" stroke-width="1.0"/>
<ellipse cx="363.80" cy="348.50" rx="4.80" ry="4.30" fill="#000"/>
<text x="386.50" y="358.40" font-size="13.1" text-anchor="start" font-weight="normal" >TSP1 -/- + S1P</text>
<line x1="350.40" y1="364.50" x2="377.30" y2="364.50" stroke="#9a9a9a" stroke-width="1.0" stroke-dasharray="2.6,2.6"/>
<ellipse cx="363.80" cy="364.50" rx="4.30" ry="3.80" fill="#fff" stroke="#8a8a8a" stroke-width="1.0"/>
<text x="386.50" y="373.50" font-size="13.1" text-anchor="start" font-weight="normal" >TSP1 -/- + S1P/TSP1</text>
</svg>
</body></html>
